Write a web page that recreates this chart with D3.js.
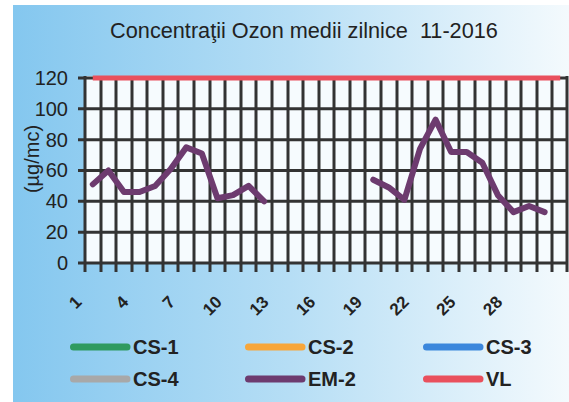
<!DOCTYPE html>
<html lang="ro">
<head>
<meta charset="UTF-8">
<title>Concentraţii Ozon medii zilnice 11-2016</title>
<script src="https://d3js.org/d3.v7.min.js"></script>
<style>
  body { margin:0; background:#fff; }
  svg { display:block; font-family: Arial, "Liberation Sans", sans-serif; }
</style>
</head>
<body>
<svg id="chart" width="569" height="402"></svg>
<script>
// categories: days of the month
var days = d3.range(1, 32);
var xLabels = [1, 4, 7, 10, 13, 16, 19, 22, 25, 28];
var yTicks = [0, 20, 40, 60, 80, 100, 120];

// EM-2 daily means (null = no data)
var em2 = [51, 60, 46, 46, 50, 61, 75, 71, 42, 44, 50, 40,
           null, null, null, null, null, null,
           54, 49, 41, 74, 93, 72, 72, 65, 44, 33, 37, 33, null];
// limit value
var vlLimit = 120;

var seriesNames  = ["CS-1", "CS-2", "CS-3", "CS-4", "EM-2", "VL"];
var seriesColors = ["#2f9a60", "#f7a63a", "#3b87dc", "#a8a8a8", "#6d3b6f", "#e9505d"];

var svg = d3.select("#chart"),
    width = +svg.attr("width"),
    height = +svg.attr("height");

// background gradient
var defs = svg.append("defs");
var grad = defs.append("linearGradient").attr("id", "bg")
  .attr("x1", "0").attr("y1", "0").attr("x2", "1").attr("y2", "0");
grad.append("stop").attr("offset", "0").attr("stop-color", "#84c7ef");
grad.append("stop").attr("offset", "0.5").attr("stop-color", "#b6def5");
grad.append("stop").attr("offset", "1").attr("stop-color", "#f4fafd");
svg.append("rect").attr("x", 13).attr("y", 5)
  .attr("width", width - 13).attr("height", height - 5)
  .attr("fill", "url(#bg)");

// scales
var xs = d3.scaleBand().domain(days).range([85, 568]).padding(0);
var ys = d3.scaleLinear().domain([0, 120]).range([263, 78]);
var bw = xs.bandwidth();
var cx = function(d) { return xs(d) + bw / 2; };
var plotL = xs(1), plotR = xs(31) + bw;

// plot area
svg.append("rect")
  .attr("x", plotL).attr("y", ys(120) - 2)
  .attr("width", plotR - plotL).attr("height", ys(0) - ys(120) + 2)
  .attr("fill", "#f6fbfe");

// grid: verticals at category boundaries (extended below as ticks),
// horizontals at y ticks (extended left as ticks)
var bounds = days.map(function(d) { return Math.round(xs(d)); });
bounds.push(Math.round(plotR) - 1);
var gridG = svg.append("g");
gridG.selectAll("line.v")
  .data(bounds).enter().append("line")
  .attr("class", "v")
  .attr("x1", function(d) { return d; })
  .attr("x2", function(d) { return d; })
  .attr("y1", 76)
  .attr("y2", 272)
  .attr("stroke", "#333")
  .attr("stroke-width", 3);
gridG.selectAll("line.h")
  .data(yTicks).enter().append("line")
  .attr("class", "h")
  .attr("x1", 78)
  .attr("x2", 568)
  .attr("y1", function(d) { return ys(d); })
  .attr("y2", function(d) { return ys(d); })
  .attr("stroke", "#333")
  .attr("stroke-width", 3);

// y axis labels
var yAxis = d3.axisLeft(ys).tickValues(yTicks).tickSize(0).tickPadding(17);
var gy = svg.append("g").attr("transform", "translate(" + plotL + ",0)").call(yAxis);
gy.select(".domain").remove();
gy.selectAll("text").attr("font-size", 20).attr("fill", "#222")
  .attr("font-family", "Arial, 'Liberation Sans', sans-serif");

// y axis title
svg.append("text")
  .attr("transform", "translate(39,159) rotate(-90)")
  .attr("text-anchor", "middle")
  .attr("font-size", 20).attr("fill", "#222")
  .text("(µg/mc)");

// x labels, rotated
svg.append("g").selectAll("text")
  .data(xLabels).enter().append("text")
  .attr("transform", function(d) { return "translate(" + (cx(d) - 10) + ",303) rotate(-45)"; })
  .attr("text-anchor", "end")
  .attr("font-size", 17).attr("font-weight", "bold").attr("fill", "#222")
  .text(function(d) { return d; });

// VL line
svg.append("line")
  .attr("x1", cx(1)).attr("x2", cx(31))
  .attr("y1", ys(vlLimit)).attr("y2", ys(vlLimit))
  .attr("stroke", seriesColors[5]).attr("stroke-width", 5);

// EM-2 line
var lineGen = d3.line()
  .defined(function(d) { return d != null; })
  .x(function(d, i) { return cx(days[i]); })
  .y(function(d) { return ys(d); });
svg.append("path")
  .datum(em2)
  .attr("d", lineGen)
  .attr("fill", "none")
  .attr("stroke", seriesColors[4])
  .attr("stroke-width", 6)
  .attr("stroke-linejoin", "round")
  .attr("stroke-linecap", "round");

// title
svg.append("text")
  .attr("x", 304).attr("y", 38)
  .attr("text-anchor", "middle")
  .attr("font-size", 21.7).attr("fill", "#222")
  .style("white-space", "pre")
  .text("Concentraţii Ozon medii zilnice  11-2016");

// legend
var legX = [70, 245, 423], legY = [347, 379];
var leg = svg.append("g").selectAll("g")
  .data(seriesNames).enter().append("g")
  .attr("transform", function(d, i) {
    return "translate(" + legX[i % 3] + "," + legY[Math.floor(i / 3)] + ")";
  });
leg.append("line")
  .attr("x1", 3.5).attr("x2", 57)
  .attr("stroke", function(d, i) { return seriesColors[i]; })
  .attr("stroke-width", 7).attr("stroke-linecap", "round");
leg.append("text")
  .attr("x", 63).attr("y", 7)
  .attr("font-size", 20).attr("font-weight", "bold").attr("fill", "#222")
  .text(function(d) { return d; });
</script>
</body>
</html>
